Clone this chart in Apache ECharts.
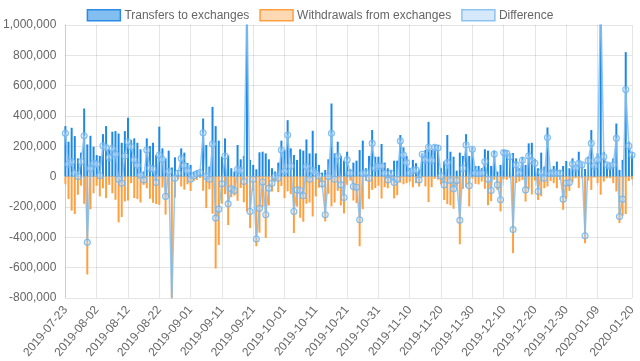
<!DOCTYPE html>
<html>
<head>
<meta charset="utf-8">
<script src="https://cdn.jsdelivr.net/npm/echarts@6/dist/echarts.min.js"></script>
<style>
html,body{margin:0;padding:0;background:#fff;}
#chart{width:640px;height:361px;}
</style>
</head>
<body>
<div id="chart"></div>
<script>
// values in thousands
const UNIT = 1000;
const startDate = '2019-07-23';
const dayCount = 182;
const yTicks = [-800000, -600000, -400000, -200000, 0, 200000, 400000, 600000, 800000, 1000000];

const transfers = [
333,230,322,267,120,158,449,212,269,197,
142,136,280,333,180,296,300,284,223,300,
388,241,252,223,180,33,252,201,223,142,
329,186,120,171,60,127,40,186,158,90,
77,33,40,35,383,208,66,460,333,237,
131,252,140,55,33,208,114,136,1400,110,
77,48,160,164,153,114,55,33,92,237,
175,372,186,142,110,180,171,245,153,302,
153,77,26,44,114,482,153,230,136,105,
164,48,92,105,175,237,55,136,307,131,
131,215,92,55,44,105,105,274,193,136,
55,110,88,44,153,175,361,175,208,208,
55,99,274,164,131,39,158,136,280,136,
193,70,70,55,180,171,70,171,33,77,
175,175,142,155,120,55,130,77,219,223,
114,55,158,66,324,48,70,99,44,70,
103,55,120,66,164,88,50,131,307,77,
153,1300,164,88,77,120,350,44,110,821,
230,160
];

const withdrawals = [
-48,-149,-225,-247,-120,-60,-180,-646,-215,-110,
-60,-131,-77,-142,-55,-110,-153,-302,-267,-164,
-158,-44,-142,-149,-171,-55,-77,-146,-173,-181,
-187,-72,-251,-138,-900,-138,-18,-66,-86,-51,
-95,-29,-22,-9,-94,-208,-84,-245,-607,-452,
-179,-116,-320,-136,-125,-160,-75,-169,-230,-340,
-95,-460,-370,-200,-405,-191,-99,-33,-103,-62,
-142,-98,-116,-372,-198,-272,-298,-179,-171,-263,
-131,-73,-74,-296,-114,-197,-171,-94,-191,-243,
-54,-26,-158,-175,-460,-215,-29,-147,-88,-76,
-61,-145,-70,-77,-22,-144,-123,-40,-51,-44,
-33,-71,-44,-66,-6,-65,-168,-70,-15,-20,
-51,-154,-182,-190,-212,-65,-447,-81,-72,-197,
-13,-48,-52,-33,-81,-189,-162,-22,-88,-230,
-17,-22,-11,-505,-43,-33,-22,-165,-83,-118,
-26,-154,-130,-77,-66,-30,-44,-77,-22,-219,
-147,-94,-37,-11,-76,-11,-440,-26,-88,-7,
-43,-120,-33,-11,-11,-43,-98,-307,-259,-247,
-29,-18
];

// categories: consecutive days
const dates = [];
(function(){
  const d0 = new Date(startDate + 'T00:00:00Z');
  for (let i = 0; i < dayCount; i++) {
    const d = new Date(d0.getTime() + i * 86400000);
    dates.push(d.toISOString().slice(0, 10));
  }
})();

const transfersV = transfers.map(v => v * UNIT);
const withdrawalsV = withdrawals.map(v => v * UNIT);
const differenceV = transfersV.map((v, i) => v + withdrawalsV[i]);

const last = dates.length - 1;
const showTick = (i) => (i % 10 === 0 && i < last - 5) || i === last;

const FONT = 'Liberation Sans, Arial, Helvetica, sans-serif';
const GRID_C = 'rgba(0,0,0,0.1)';

const chart = echarts.init(document.getElementById('chart'), null, {renderer: 'canvas'});
chart.setOption({
  animation: false,
  backgroundColor: '#fff',
  textStyle: {fontFamily: FONT},
  legend: {
    top: 4,
    left: 'center',
    itemWidth: 33,
    itemHeight: 11,
    itemGap: 10,
    icon: 'rect',
    textStyle: {color: '#666', fontSize: 12, fontFamily: FONT, padding: [0, 0, 0, -1]},
    data: [
      {name: 'Transfers to exchanges', itemStyle: {color: 'rgba(30,136,229,0.55)', borderColor: '#2a8ae6', borderWidth: 1.5}},
      {name: 'Withdrawals from exchanges', itemStyle: {color: 'rgba(255,159,64,0.4)', borderColor: '#ff9f40', borderWidth: 1.5}},
      {name: 'Difference', itemStyle: {color: 'rgba(150,200,245,0.4)', borderColor: '#8cc3f0', borderWidth: 1.5}}
    ]
  },
  grid: {left: 57, right: 8, top: 25, bottom: 62, containLabel: false},
  xAxis: {
    type: 'category',
    data: dates,
    boundaryGap: false,
    axisLine: {show: true, lineStyle: {color: GRID_C}},
    axisTick: {show: true, length: 9, interval: (i) => showTick(i), lineStyle: {color: GRID_C}},
    splitLine: {show: true, interval: (i) => showTick(i), lineStyle: {color: GRID_C}},
    axisLabel: {
      interval: (i) => showTick(i),
      rotate: 50,
      margin: 10,
      color: '#666',
      fontSize: 12,
      fontFamily: FONT
    }
  },
  yAxis: {
    type: 'value',
    min: yTicks[0],
    max: yTicks[yTicks.length - 1],
    interval: 200000,
    axisLine: {show: true, lineStyle: {color: GRID_C}},
    axisTick: {show: false},
    splitLine: {show: true, lineStyle: {color: GRID_C}},
    axisLabel: {
      margin: 9,
      color: '#666',
      fontSize: 12,
      fontFamily: FONT,
      formatter: (v) => v.toLocaleString('en-US')
    }
  },
  series: [
    {
      name: 'Transfers to exchanges',
      type: 'bar',
      data: transfersV,
      barWidth: 2,
      barGap: '-100%',
      itemStyle: {color: '#1e88e5'},
      clip: true,
      z: 2
    },
    {
      name: 'Withdrawals from exchanges',
      type: 'bar',
      data: withdrawalsV,
      barWidth: 2,
      barGap: '-100%',
      itemStyle: {color: '#ffa040'},
      clip: true,
      z: 2
    },
    {
      name: 'Difference',
      type: 'line',
      data: differenceV,
      symbol: 'circle',
      symbolSize: 6,
      showAllSymbol: true,
      lineStyle: {color: 'rgba(130,190,240,0.85)', width: 1.5},
      itemStyle: {color: 'rgba(180,215,248,0.4)', borderColor: 'rgba(110,180,238,0.85)', borderWidth: 1.1},
      clip: true,
      z: 3
    }
  ]
});
</script>
</body>
</html>
